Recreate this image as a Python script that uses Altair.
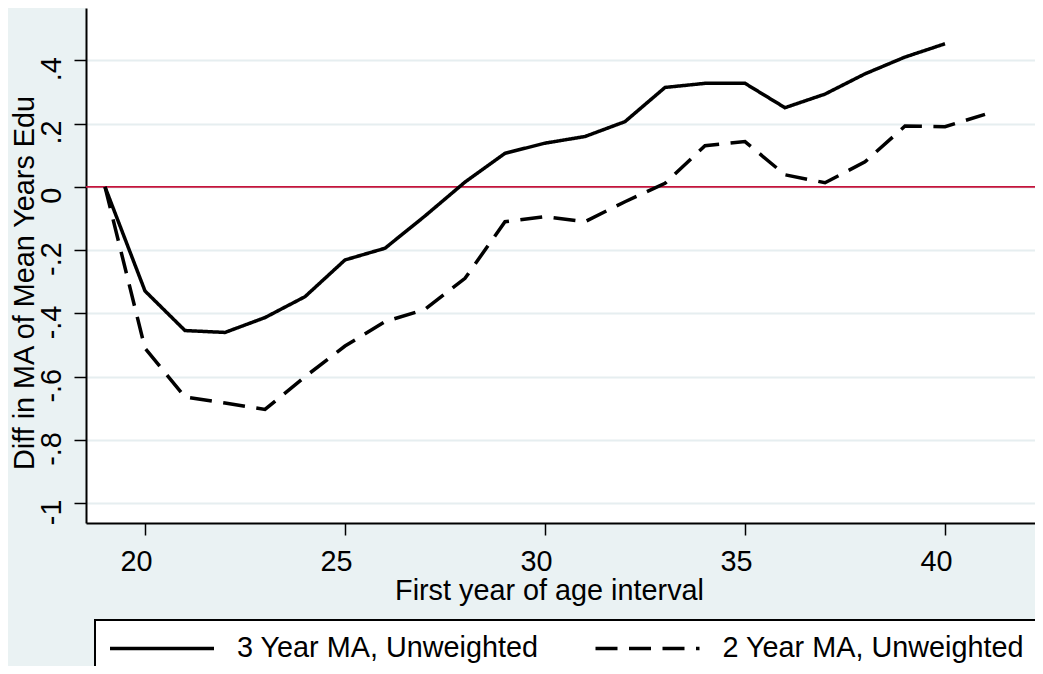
import altair as alt
import pandas as pd

# ---------------- data ----------------
ages_3yr = list(range(19, 41))
ma_3yr = [0.0, -0.329, -0.454, -0.46, -0.413, -0.347, -0.231, -0.194, -0.092, 0.015,
          0.106, 0.138, 0.159, 0.206, 0.314, 0.327, 0.327, 0.25, 0.293, 0.357, 0.41, 0.452]

ages_2yr = list(range(19, 42))
ma_2yr = [0.0, -0.51, -0.664, -0.683, -0.703, -0.6, -0.503, -0.426, -0.387, -0.289,
          -0.11, -0.094, -0.11, -0.047, 0.011, 0.13, 0.143, 0.038, 0.013, 0.079,
          0.192, 0.19, 0.229]

series_names = ["3 Year MA, Unweighted", "2 Year MA, Unweighted"]
x_ticks = [20, 25, 30, 35, 40]
y_ticks = [-1, -0.8, -0.6, -0.4, -0.2, 0, 0.2, 0.4]
y_tick_labels = ["-1", "-.8", "-.6", "-.4", "-.2", "0", ".2", ".4"]
zero_line = [0]

x_title = "First year of age interval"
y_title = "Diff in MA of Mean Years Edu"

# ---------------- table ----------------
df = pd.concat([
    pd.DataFrame({"age": ages_3yr, "value": ma_3yr, "series": series_names[0]}),
    pd.DataFrame({"age": ages_2yr, "value": ma_2yr, "series": series_names[1]}),
], ignore_index=True)
zero_df = pd.DataFrame({"value": zero_line})

label_expr = "''"
for v, l in reversed(list(zip(y_ticks, y_tick_labels))):
    label_expr = f"abs(datum.value - ({v})) < 1e-6 ? '{l}' : {label_expr}"

FONT = "Liberation Sans"
FS = 28.8

x_enc = alt.X(
    "age:Q",
    scale=alt.Scale(domain=[18.525, 42.25], nice=False, zero=False),
    axis=alt.Axis(
        values=x_ticks, title=x_title, grid=False,
        labelFont=FONT, labelFontSize=FS, labelColor="black",
        labelAlign="center", labelBaseline="alphabetic", labelPadding=35,
        labelOffset=-9, labelFlush=False, labelOverlap=False,
        tickSize=12, tickWidth=1.5, tickColor="black",
        domainColor="black", domainWidth=2,
        titleFont=FONT, titleFontSize=FS, titleFontWeight="normal", titleColor="black",
        titleX=463, titleY=76, titleAlign="center", titleBaseline="alphabetic",
        titleAngle=0,
    ),
)

y_enc = alt.Y(
    "value:Q",
    scale=alt.Scale(domain=[-1.062, 0.565], nice=False, zero=False),
    axis=alt.Axis(
        values=y_ticks, labelExpr=label_expr, title=y_title,
        grid=True, gridColor="#e6eef0", gridWidth=2,
        labelFont=FONT, labelFontSize=FS, labelColor="black",
        labelAngle=270, labelAlign="center", labelBaseline="alphabetic",
        labelPadding=14, labelOffset=8.5, labelFlush=False, labelOverlap=False,
        tickSize=12, tickWidth=1.5, tickColor="black",
        domainColor="black", domainWidth=2,
        titleFont=FONT, titleFontSize=FS, titleFontWeight="normal", titleColor="black",
        titleAngle=270, titleX=-53, titleY=274.5, titleAlign="center",
        titleBaseline="alphabetic",
    ),
)

rule = alt.Chart(zero_df).mark_rule(color="#c4143c", strokeWidth=1.8).encode(y=y_enc)

lines = alt.Chart(df).mark_line(strokeWidth=3.5, color="black", strokeCap="butt").encode(
    x=x_enc,
    y=y_enc,
    strokeDash=alt.StrokeDash(
        "series:N",
        sort=series_names,
        scale=alt.Scale(domain=series_names, range=[[1, 0], [22, 11.5]]),
        legend=alt.Legend(
            title=None, orient="none", legendX=9, legendY=612,
            direction="horizontal",
            symbolType="M-1.25,0H8.75", symbolSize=432.64,
            symbolStrokeWidth=3.5, symbolStrokeColor="black",
            labelFont=FONT, labelFontSize=FS, labelColor="black",
            labelLimit=2000, labelOffset=99.6, columnPadding=49.5,
            padding=13.6, fillColor="white", strokeColor="black",
        ),
    ),
)

chart = alt.layer(rule, lines).properties(
    width=949,
    height=515,
    autosize=alt.AutoSizeParams(type="none"),
    padding={"left": 78, "top": 0, "right": 0, "bottom": 143},
    background="#eaf2f3",
).configure_view(fill="white", stroke=None)

try:
    _c = chart.configure_legend(strokeWidth=2)
    _c.to_dict()
    chart = _c
except Exception:
    pass

chart.save("out.html", embed_options={"renderer": "svg", "actions": False})
